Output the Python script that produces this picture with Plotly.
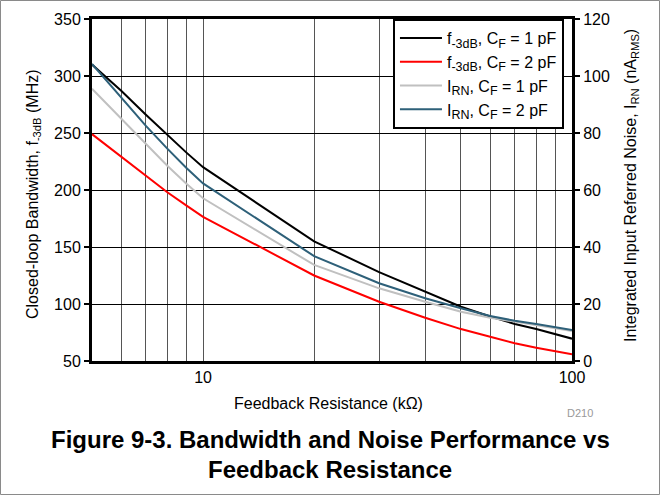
import plotly.graph_objects as go

# Feedback resistance (kOhm)
r_kohm = [5, 6, 7, 8, 9, 10, 20, 30, 40, 50, 60, 70, 80, 100]

# Closed-loop bandwidth f-3dB (MHz)
bw_cf1 = [310, 287, 266, 248, 233, 220, 155, 128, 110.5, 97.6, 89, 82.5, 78, 69.6]
bw_cf2 = [249, 229, 212, 198, 186.5, 176.5, 125, 102, 88, 78, 71.3, 65.5, 61.7, 55.9]

# Integrated input-referred noise I_RN (nA RMS)
irn_cf1 = [95.5, 85, 76, 68.5, 62.3, 57.1, 33.7, 25.5, 20.8, 17.3, 15.2, 13.8, 12.5, 10.5]
irn_cf2 = [104.2, 92.5, 82.5, 74.5, 67.8, 62.3, 36.8, 27.3, 22, 18.5, 15.8, 14.1, 13, 10.9]

x_grid = [6, 7, 8, 9, 10, 20, 30, 40, 50, 60, 70, 80, 90, 100]
x_text = ["" if v not in (10, 100) else str(v) for v in x_grid]
left_ticks = [50, 100, 150, 200, 250, 300, 350]
right_ticks = [0, 20, 40, 60, 80, 100, 120]

FONT = "Liberation Sans, Arial, sans-serif"


def sub(t):
    return '<sub><span style="font-size:12.5px">' + t + '</span></sub>'


fig = go.Figure()
fig.add_trace(go.Scatter(x=r_kohm, y=bw_cf1, mode="lines", line=dict(color="#000000", width=2),
                         name="f" + sub("-3dB") + ", C" + sub("F") + " = 1 pF"))
fig.add_trace(go.Scatter(x=r_kohm, y=bw_cf2, mode="lines", line=dict(color="#ff0000", width=2),
                         name="f" + sub("-3dB") + ", C" + sub("F") + " = 2 pF"))
fig.add_trace(go.Scatter(x=r_kohm, y=irn_cf1, mode="lines", line=dict(color="#c0c0c0", width=2),
                         name="I" + sub("RN") + ", C" + sub("F") + " = 1 pF", yaxis="y2"))
fig.add_trace(go.Scatter(x=r_kohm, y=irn_cf2, mode="lines", line=dict(color="#2e6079", width=2),
                         name="I" + sub("RN") + ", C" + sub("F") + " = 2 pF", yaxis="y2"))

fig.update_layout(
    width=661, height=496,
    margin=dict(l=92, r=89, t=19, b=135),
    paper_bgcolor="white", plot_bgcolor="white",
    font=dict(family=FONT, size=16, color="black"),
    showlegend=True,
    legend=dict(x=0.627, y=1, xanchor="left", yanchor="top",
                bgcolor="white", bordercolor="black", borderwidth=2,
                font=dict(size=16), tracegroupgap=0, itemwidth=42),
    xaxis=dict(type="log", range=[0.69897, 2], tickvals=x_grid, ticktext=x_text,
               showgrid=True, gridcolor="#555555", gridwidth=1,
               showline=True, linecolor="black", linewidth=3, mirror=True,
               ticks="", tickfont=dict(size=16), zeroline=False),
    yaxis=dict(range=[50, 350], tickvals=left_ticks, showgrid=True, gridcolor="black", gridwidth=1,
               showline=True, linecolor="black", linewidth=3, mirror=True,
               ticks="outside", ticklen=5, tickwidth=1.5, tickcolor="black",
               tickfont=dict(size=16), zeroline=False),
    yaxis2=dict(range=[0, 120], tickvals=right_ticks, overlaying="y", side="right",
                showgrid=False, showline=True, linecolor="black", linewidth=3,
                ticks="outside", ticklen=5, tickwidth=1.5, tickcolor="black",
                tickfont=dict(size=16), zeroline=False),
)

W, H = 480.0, 342.0
def px(x):
    return (x - 92) / W
def py(y):
    return (361 - y) / H

ann = [
    dict(text="Closed-loop Bandwidth, f<sub>-3dB</sub> (MHz)", x=px(33), y=py(194), textangle=-90,
         font=dict(size=16)),
    dict(text="Integrated Input Referred Noise, I<sub>RN</sub> (nA<sub>RMS</sub>)", x=px(631), y=py(186),
         textangle=-90, font=dict(size=16)),
    dict(text="Feedback Resistance (kΩ)", x=px(328), y=py(403), font=dict(size=16)),
    dict(text="D210", x=px(580), y=py(413), font=dict(size=11, color="#999999")),
    dict(text="<b>Figure 9-3. Bandwidth and Noise Performance vs</b>", x=px(330), y=py(440),
         font=dict(size=24)),
    dict(text="<b>Feedback Resistance</b>", x=px(330), y=py(469), font=dict(size=24)),
]
for a in ann:
    a.update(xref="paper", yref="paper", showarrow=False, xanchor="center", yanchor="middle")
fig.update_layout(annotations=ann)

fig.add_shape(type="rect", xref="paper", yref="paper",
              x0=px(0.5), x1=px(659.5), y0=py(494.5), y1=py(0.5),
              line=dict(color="#8a8a8a", width=1), fillcolor="rgba(0,0,0,0)", layer="above")

fig.write_html("out.html", config={"displayModeBar": False},
               post_script="document.body.style.margin='0px';document.body.style.overflow='hidden';")
